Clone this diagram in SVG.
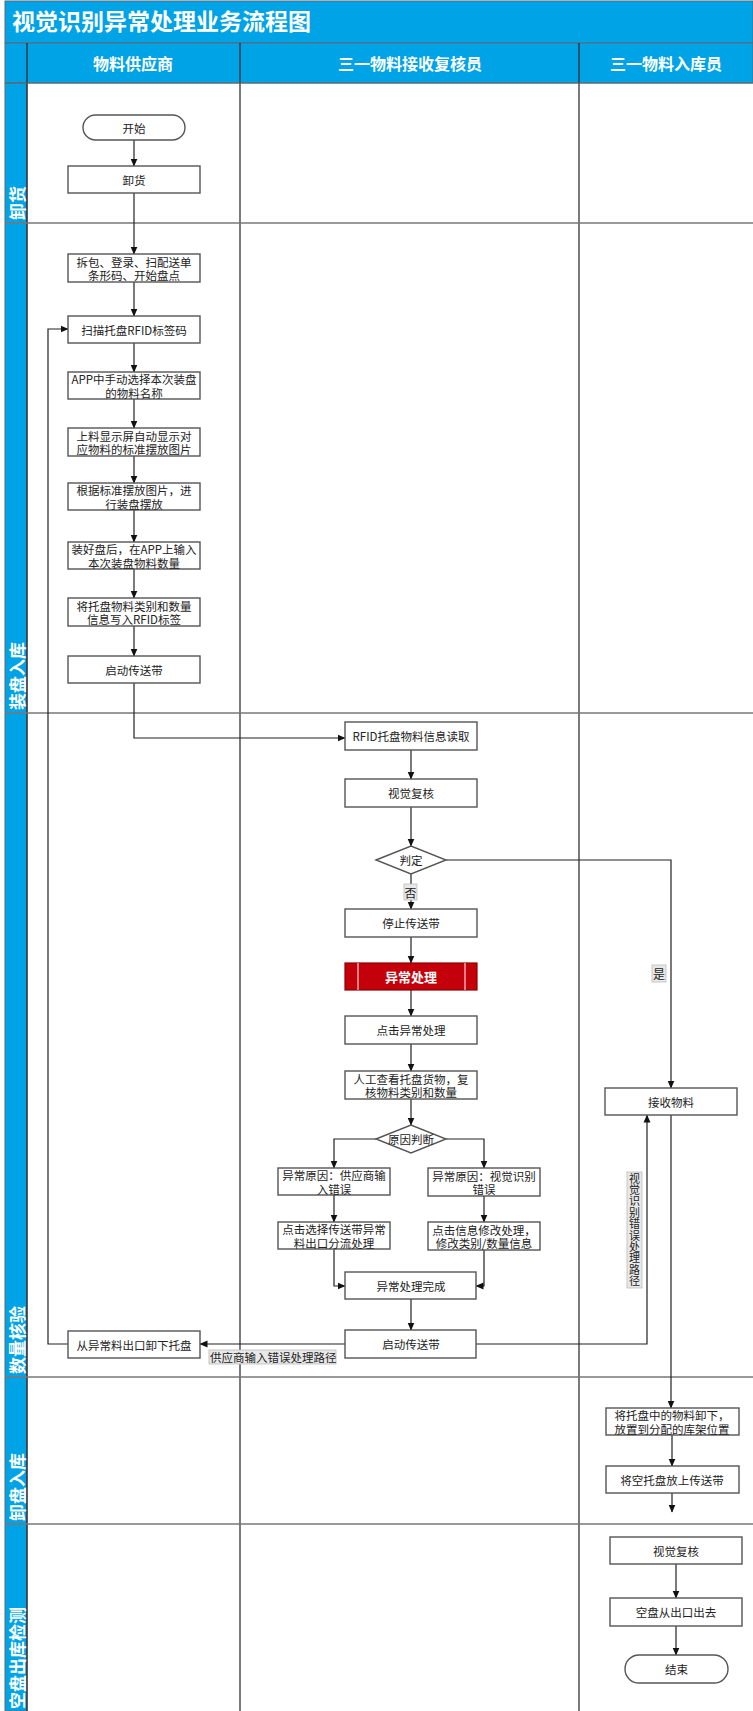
<svg xmlns="http://www.w3.org/2000/svg" width="753" height="1711" viewBox="0 0 753 1711">
<defs>
<marker id="ah" markerWidth="8" markerHeight="8" refX="7.5" refY="4" orient="auto" markerUnits="userSpaceOnUse">
<path d="M0,0.5 L8,4 L0,7.5 Z" fill="#111"/>
</marker>
<style>
.band{fill:#00A3E6;stroke:#5a6a74;stroke-width:1}
.title{font-family:"Noto Sans CJK SC","Noto Sans",sans-serif;font-size:23px;font-weight:bold;fill:#fff}
.hdr{font-family:"Noto Sans CJK SC","Noto Sans",sans-serif;font-size:16px;font-weight:bold;fill:#fff;text-anchor:middle;dominant-baseline:central}
.lane{font-family:"Noto Sans CJK SC","Noto Sans",sans-serif;font-size:17px;font-weight:bold;fill:#fff;dominant-baseline:central}
.col{stroke:#222;stroke-width:1.2;fill:none}
.row{stroke:#777;stroke-width:1.5;fill:none}
.box{fill:#fff;stroke:#555;stroke-width:1.4}
.red{fill:#C4000B;stroke:#8a0000;stroke-width:1.2}
.t{font-family:"Noto Sans CJK SC","Noto Sans",sans-serif;font-size:11.5px;fill:#222;text-anchor:middle;dominant-baseline:central}
.tw{font-family:"Noto Sans CJK SC","Noto Sans",sans-serif;font-size:13px;font-weight:bold;fill:#fff;text-anchor:middle;dominant-baseline:central}
.cn{stroke:#222;stroke-width:1.2;fill:none;marker-end:url(#ah)}
.lb{fill:#e8e8e8;stroke:#bbb;stroke-width:0.8}
.lt{font-family:"Noto Sans CJK SC","Noto Sans",sans-serif;font-size:11.5px;fill:#222;dominant-baseline:central}
.vt{font-family:"Noto Sans CJK SC","Noto Sans",sans-serif;font-size:11px;letter-spacing:0.4px;fill:#222;writing-mode:vertical-rl}
</style>
</defs>
<rect x="0" y="0" width="753" height="1711" fill="#fff"/>
<g id="frame">
<rect class="band" x="5" y="1" width="748" height="42"/>
<text class="title" x="12" y="30">视觉识别异常处理业务流程图</text>
<rect class="band" x="5" y="43" width="748" height="40"/>
<rect class="band" x="5" y="83" width="22" height="1628"/>
<line class="col" x1="27" y1="43" x2="27" y2="1711"/>
<line class="col" x1="240" y1="43" x2="240" y2="1711"/>
<line class="col" x1="579" y1="43" x2="579" y2="1711"/>
<line x1="5" y1="83" x2="753" y2="83" stroke="#5a6a74" stroke-width="1"/>
<text class="hdr" x="133" y="63">物料供应商</text>
<text class="hdr" x="410" y="63">三一物料接收复核员</text>
<text class="hdr" x="666" y="63">三一物料入库员</text>
<line class="row" x1="5" y1="223" x2="753" y2="223"/>
<line class="row" x1="5" y1="713" x2="753" y2="713"/>
<line class="row" x1="5" y1="1377" x2="753" y2="1377"/>
<line class="row" x1="5" y1="1524" x2="753" y2="1524"/>
<text class="lane" transform="translate(16,220) rotate(-90)">卸货</text>
<text class="lane" transform="translate(16,710) rotate(-90)">装盘入库</text>
<text class="lane" transform="translate(16,1374) rotate(-90)">数量核验</text>
<text class="lane" transform="translate(16,1521) rotate(-90)">卸盘入库</text>
<text class="lane" transform="translate(16,1709) rotate(-90)">空盘出库检测</text>
</g>
<g id="connectors">
<path class="cn" d="M134,140 V166"/>
<path class="cn" d="M134,193 V254"/>
<path class="cn" d="M134,282 V316"/>
<path class="cn" d="M134,343 V372"/>
<path class="cn" d="M134,399 V428"/>
<path class="cn" d="M134,456 V483"/>
<path class="cn" d="M134,510 V542"/>
<path class="cn" d="M134,569 V598"/>
<path class="cn" d="M134,626 V656"/>
<path class="cn" d="M134,683 V738 H345"/>
<path class="cn" d="M411,750 V779"/>
<path class="cn" d="M411,807 V846"/>
<path class="cn" d="M411,874 V909"/>
<path class="cn" d="M446,860 H671 V1088"/>
<path class="cn" d="M411,937 V963"/>
<path class="cn" d="M411,990 V1016"/>
<path class="cn" d="M411,1044 V1071"/>
<path class="cn" d="M411,1099 V1125"/>
<path class="cn" d="M376,1139 H334 V1168"/>
<path class="cn" d="M446,1139 H484 V1168"/>
<path class="cn" d="M334,1195 V1222"/>
<path class="cn" d="M484,1196 V1222"/>
<path class="cn" d="M334,1249 V1286 H345"/>
<path class="cn" d="M484,1250 V1286 H476"/>
<path class="cn" d="M411,1299 V1330"/>
<path class="cn" d="M345,1344 H200"/>
<path class="cn" d="M68,1344 H48 V329 H68"/>
<path class="cn" d="M476,1344 H647 V1115"/>
<path class="cn" d="M671,1115 V1408"/>
<path class="cn" d="M672,1435 V1466"/>
<path class="cn" d="M672,1493 V1512"/>
<path class="cn" d="M676,1564 V1598"/>
<path class="cn" d="M676,1626 V1655"/>
<rect class="lb" x="404" y="884" width="13" height="16"/>
<text class="lt" x="404.5" y="892" style="font-size:12px">否</text>
<rect class="lb" x="652" y="965" width="14" height="17"/>
<text class="lt" x="653" y="973.5" style="font-size:12px">是</text>
<rect class="lb" x="209" y="1350" width="127" height="14"/>
<text class="lt" x="210" y="1357">供应商输入错误处理路径</text>
<rect class="lb" x="627" y="1172" width="15" height="116"/>
<text class="vt" x="634.5" y="1173">视觉识别错误处理路径</text>
</g>
<g id="n-start"><rect class="box" x="83" y="115" width="102" height="25" rx="12.5"/><text class="t" x="134" y="127.5">开始</text></g>
<g id="n-xiehuo"><rect class="box" x="68" y="166" width="132" height="27"/><text class="t" x="134" y="179.5">卸货</text></g>
<g id="n-chaibao"><rect class="box" x="68" y="254" width="132" height="28"/><text class="t" x="134" y="261.5">拆包、登录、扫配送单</text><text class="t" x="134" y="275">条形码、开始盘点</text></g>
<g id="n-scan"><rect class="box" x="68" y="316" width="132" height="27"/><text class="t" x="134" y="329.5">扫描托盘RFID标签码</text></g>
<g id="n-app"><rect class="box" x="68" y="372" width="132" height="27"/><text class="t" x="134" y="379">APP中手动选择本次装盘</text><text class="t" x="134" y="392.5">的物料名称</text></g>
<g id="n-screen"><rect class="box" x="68" y="428" width="132" height="28"/><text class="t" x="134" y="435.5">上料显示屏自动显示对</text><text class="t" x="134" y="449">应物料的标准摆放图片</text></g>
<g id="n-place"><rect class="box" x="68" y="483" width="132" height="27"/><text class="t" x="134" y="490">根据标准摆放图片，进</text><text class="t" x="134" y="503.5">行装盘摆放</text></g>
<g id="n-input"><rect class="box" x="68" y="542" width="132" height="27"/><text class="t" x="134" y="549">装好盘后，在APP上输入</text><text class="t" x="134" y="562.5">本次装盘物料数量</text></g>
<g id="n-write"><rect class="box" x="68" y="598" width="132" height="28"/><text class="t" x="134" y="605.5">将托盘物料类别和数量</text><text class="t" x="134" y="619">信息写入RFID标签</text></g>
<g id="n-start-belt1"><rect class="box" x="68" y="656" width="132" height="27"/><text class="t" x="134" y="669.5">启动传送带</text></g>
<g id="n-rfid-read"><rect class="box" x="345" y="722" width="132" height="28"/><text class="t" x="411" y="736">RFID托盘物料信息读取</text></g>
<g id="n-vision1"><rect class="box" x="345" y="779" width="132" height="28"/><text class="t" x="411" y="793">视觉复核</text></g>
<g id="n-judge"><path class="box" d="M376,860 L411,846 L446,860 L411,874 Z"/><text class="t" x="411" y="860">判定</text></g>
<g id="n-stop"><rect class="box" x="345" y="909" width="132" height="28"/><text class="t" x="411" y="923">停止传送带</text></g>
<g id="n-exception"><rect class="red" x="345" y="963" width="132" height="27"/><line x1="358" y1="963" x2="358" y2="990" stroke="#fff" stroke-width="1"/><line x1="465" y1="963" x2="465" y2="990" stroke="#fff" stroke-width="1"/><text class="tw" x="411" y="976.5">异常处理</text></g>
<g id="n-click"><rect class="box" x="345" y="1016" width="132" height="28"/><text class="t" x="411" y="1030">点击异常处理</text></g>
<g id="n-manual"><rect class="box" x="345" y="1071" width="132" height="28"/><text class="t" x="411" y="1078.5">人工查看托盘货物，复</text><text class="t" x="411" y="1092">核物料类别和数量</text></g>
<g id="n-reason"><path class="box" d="M376,1139 L411,1125 L446,1139 L411,1153 Z"/><text class="t" x="411" y="1139">原因判断</text></g>
<g id="n-supplier-err"><rect class="box" x="278" y="1168" width="112" height="27"/><text class="t" x="334" y="1175">异常原因：供应商输</text><text class="t" x="334" y="1188.5">入错误</text></g>
<g id="n-vision-err"><rect class="box" x="428" y="1168" width="112" height="28"/><text class="t" x="484" y="1175.5">异常原因：视觉识别</text><text class="t" x="484" y="1189">错误</text></g>
<g id="n-divert"><rect class="box" x="278" y="1222" width="112" height="27"/><text class="t" x="334" y="1229">点击选择传送带异常</text><text class="t" x="334" y="1242.5">料出口分流处理</text></g>
<g id="n-modify"><rect class="box" x="428" y="1222" width="112" height="28"/><text class="t" x="484" y="1229.5">点击信息修改处理，</text><text class="t" x="484" y="1243">修改类别/数量信息</text></g>
<g id="n-done"><rect class="box" x="345" y="1272" width="131" height="27"/><text class="t" x="411" y="1285.5">异常处理完成</text></g>
<g id="n-start-belt2"><rect class="box" x="345" y="1330" width="131" height="28"/><text class="t" x="411" y="1344">启动传送带</text></g>
<g id="n-unload-tray"><rect class="box" x="68" y="1331" width="132" height="27"/><text class="t" x="134" y="1344.5">从异常料出口卸下托盘</text></g>
<g id="n-receive"><rect class="box" x="605" y="1088" width="132" height="27"/><text class="t" x="671" y="1101.5">接收物料</text></g>
<g id="n-shelve"><rect class="box" x="606" y="1408" width="133" height="27"/><text class="t" x="672" y="1415">将托盘中的物料卸下，</text><text class="t" x="672" y="1428.5">放置到分配的库架位置</text></g>
<g id="n-empty-belt"><rect class="box" x="606" y="1466" width="133" height="27"/><text class="t" x="672" y="1479.5">将空托盘放上传送带</text></g>
<g id="n-vision2"><rect class="box" x="610" y="1537" width="132" height="27"/><text class="t" x="676" y="1550.5">视觉复核</text></g>
<g id="n-exit"><rect class="box" x="610" y="1598" width="132" height="28"/><text class="t" x="676" y="1612">空盘从出口出去</text></g>
<g id="n-end"><rect class="box" x="625" y="1655" width="103" height="28" rx="14"/><text class="t" x="676.5" y="1669">结束</text></g>
</svg>
